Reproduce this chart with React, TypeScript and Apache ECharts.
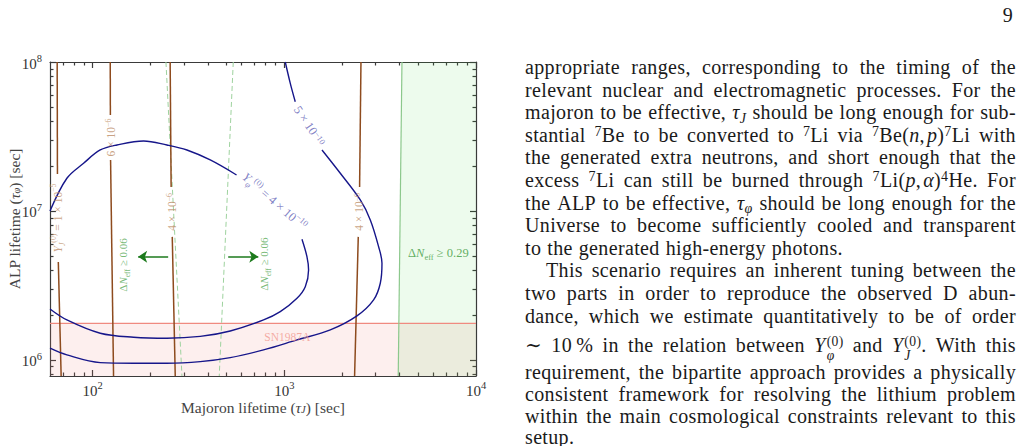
import React, { useEffect, useRef } from "react";
import * as echarts from "echarts";

// ---------- axis ranges & ticks ----------
const X_MIN = 60;
const X_MAX = 10000;
const Y_MIN = 780000;
const Y_MAX = 100000000;

const xMajorTicks = [100, 1000, 10000];
const xMinorTicks = [70, 80, 90, 200, 300, 400, 500, 600, 700, 800, 900, 2000, 3000, 4000, 5000, 6000, 7000, 8000, 9000];
const yMajorTicks = [1e6, 1e7, 1e8];
const yMinorTicks = [8e5, 9e5, 2e6, 3e6, 4e6, 5e6, 6e6, 7e6, 8e6, 9e6, 2e7, 3e7, 4e7, 5e7, 6e7, 7e7, 8e7, 9e7];

// ---------- Y_phi^(0) contours [tauJ, tauPhi] ----------
const yPhi4Upper = [[60, 1e7], [73.5, 1.658e7], [89.8, 2.09e7], [109.7, 2.567e7], [134.1, 2.773e7], [184.6, 2.95e7], [244.4, 2.773e7], [310.7, 2.567e7], [411.1, 2.199e7], [563.8, 1.744e7]];
const yPhi4Lower = [[1237, 6.46e6], [1313, 4.935e6], [1339, 4.018e6], [1287, 3.104e6], [1165, 2.595e6], [953, 2.11e6], [779.8, 1.856e6], [522.7, 1.565e6], [364.6, 1.438e6], [244.4, 1.398e6], [163.7, 1.42e6], [109.7, 1.511e6], [73.5, 1.856e6], [60, 2.199e6]];
const yPhi5Upper = [[1012, 1e8], [1075, 7.19e7], [1141, 5.414e7]];
const yPhi5Lower = [[1573, 2.567e7], [1960, 1.791e7], [2492, 1.185e7], [2810, 8.7e6], [3104, 5.76e6], [3233, 4.457e6], [3168, 3.272e6], [2924, 2.528e6], [2394, 1.974e6], [1738, 1.59e6], [1165, 1.362e6], [779.8, 1.167e6], [522.7, 1.036e6], [364.6, 9.74e5], [244.4, 9.5e5], [163.7, 9.5e5], [109.7, 9.59e5], [73.5, 1.08e6], [60, 1.198e6]];

// ---------- Y_J^(0) contours (segments around labels) ----------
const yJ1e5 = [[[65.4, 1e8], [65.6, 1.77e7]], [[66.3, 4.55e6], [68.6, 7.8e5]]];
const yJ6e6 = [[[123.7, 1e8], [123.9, 4.4e7]], [[124.2, 2.2e7], [128.7, 7.8e5]]];
const yJ4e6a = [[[254, 1e8], [257, 1.45e7]], [[260.5, 6.7e6], [270, 7.8e5]]];
const yJ4e6b = [[[2512, 1e8], [2471, 1.45e7]], [[2432, 6.7e6], [2327, 7.8e5]]];

// ---------- Delta N_eff constraints ----------
const dNeff006Left = [[241.5, 1e8], [292.7, 7.8e5]];
const dNeff006Right = [[542, 1e8], [458, 7.8e5]];
const arrowLeft = [[248, 4.93e6], [173, 4.93e6]];
const arrowRight = [[510, 4.93e6], [732, 4.93e6]];
const dNeff029Edge = [[4110, 1e8], [3930, 7.8e5]];
const dNeff029Region = [[4110, 1e8], [10000, 1e8], [10000, 7.8e5], [3930, 7.8e5]];

// ---------- SN1987A ----------
const sn1987aBound = 1.76e6;
const sn1987aRegion = [[60, 7.8e5], [10000, 7.8e5], [10000, 1.76e6], [60, 1.76e6]];

// ---------- labels ----------
const blueLabels = [
  { pos: [887, 1.158e7], text: "{i|Y}{sub|φ}{sup|(0)} = 4 × 10{sup|−10}" },
  { pos: [1350, 3.72e7], text: "5 × 10{sup|−10}" },
];
const brownLabels = [
  { pos: [66.2, 8.97e6], text: "{i|Y}{sub|J}{sup|(0)} = 1 × 10{sup|−5}" },
  { pos: [124.4, 3.11e7], text: "6 × 10{sup|−6}" },
  { pos: [258.8, 9.85e6], text: "4 × 10{sup|−6}" },
  { pos: [2461, 9.85e6], text: "4 × 10{sup|−6}" },
];
const greenLabels = [
  { pos: [144.5, 4.34e6], text: "Δ{i|N}{subr|eff} ≥ 0.06" },
  { pos: [781.6, 4.4e6], text: "Δ{i|N}{subr|eff} ≥ 0.06" },
];
const neff029Label = { pos: [6361, 5.22e6], text: "Δ{i|N}{subr|eff} ≥ 0.29" };
const snLabel = { pos: [1037, 1.427e6], text: "SN1987A" };

// ---------- page text ----------
const paraLines = [
  "appropriate ranges, corresponding to the timing of the",
  "relevant nuclear and electromagnetic processes. For the",
  "majoron to be effective, <i>τ<sub>J</sub></i> should be long enough for sub-",
  "stantial <sup>7</sup>Be to be converted to <sup>7</sup>Li via <sup>7</sup>Be(<i>n</i>,&#8202;<i>p</i>)<sup>7</sup>Li with",
  "the generated extra neutrons, and short enough that the",
  "excess <sup>7</sup>Li can still be burned through <sup>7</sup>Li(<i>p</i>,&#8202;<i>α</i>)<sup>4</sup>He. For",
  "the ALP to be effective, <i>τ<sub>φ</sub></i> should be long enough for the",
  "Universe to become sufficiently cooled and transparent",
  "to the generated high-energy photons.",
  "This scenario requires an inherent tuning between the",
  "two parts in order to reproduce the observed D abun-",
  "dance, which we estimate quantitatively to be of order",
  "∼ 10&#8201;% in the relation between {Yphi} and {YJ}. With this",
  "requirement, the bipartite approach provides a physically",
  "consistent framework for resolving the lithium problem",
  "within the main cosmological constraints relevant to this",
  "setup.",
];
const unjustified = [8, 16];
const indented = [9];
const lineCenters = [67, 89.6, 112.2, 134.8, 157.4, 180, 202.6, 225.2, 247.8, 270.4, 293, 315.6, 344, 372, 393.8, 415.5, 436.5];

const Y_PHI = '<i>Y</i><span class="st"><span>(0)</span><span><i>φ</i></span></span>';
const Y_J = '<i>Y</i><span class="st"><span>(0)</span><span><i>J</i></span></span>';

const SERIF = '"Liberation Serif", "DejaVu Serif", serif';
const AXIS_COLOR = "#3a3a3a";
const BLUE = "#16168a";
const BROWN = "#8e4b1e";

function buildOption() {
  const richSmall = (color: string, size: number) => ({
    i: { fontStyle: "italic", fontFamily: SERIF, fontSize: size, color, lineHeight: size + 5, verticalAlign: "middle" },
    sub: { fontStyle: "italic", fontFamily: SERIF, fontSize: size * 0.68, color, lineHeight: size * 0.7, verticalAlign: "bottom" },
    subr: { fontFamily: SERIF, fontSize: size * 0.68, color, lineHeight: size * 0.7, verticalAlign: "bottom" },
    sup: { fontFamily: SERIF, fontSize: size * 0.68, color, lineHeight: size * 0.7, verticalAlign: "top" },
  });

  const powRich = {
    b: { fontSize: 15, fontFamily: SERIF, color: "#333", lineHeight: 18, verticalAlign: "bottom" },
    s: { fontSize: 10.5, fontFamily: SERIF, color: "#333", lineHeight: 9, verticalAlign: "top" },
  };
  const powFormatter = (v: number) => `{b|10}{s|${Math.round(Math.log10(v))}}`;

  const nameRich = {
    m: { fontStyle: "italic", fontFamily: SERIF, fontSize: 15.5, color: "#444" },
    sub: { fontStyle: "italic", fontFamily: SERIF, fontSize: 10.5, color: "#444", verticalAlign: "bottom", lineHeight: 10 },
  };

  const grid = { left: 50, top: 62, width: 426, height: 314, containLabel: false, outerBoundsMode: "none" };

  const logX = (extra: any) => ({ type: "log", logBase: 10, min: X_MIN, max: X_MAX, splitLine: { show: false }, ...extra });
  const logY = (extra: any) => ({ type: "log", logBase: 10, min: Y_MIN, max: Y_MAX, splitLine: { show: false }, ...extra });
  const lineSt = { color: AXIS_COLOR, width: 1.2 };

  const xAxis = [
    logX({
      gridIndex: 0, position: "bottom",
      axisLine: { show: true, onZero: false, lineStyle: lineSt },
      axisTick: { show: true, inside: true, length: 6, customValues: xMajorTicks, lineStyle: lineSt },
      axisLabel: { show: true, customValues: xMajorTicks, formatter: powFormatter, rich: powRich, margin: 4 },
      name: "Majoron lifetime ({m|τ}{sub|J}) [sec]", nameLocation: "middle", nameGap: 23, nameMoveOverlap: false,
      nameTextStyle: { fontFamily: SERIF, fontSize: 15.5, color: "#444", rich: nameRich },
    }),
    logX({
      gridIndex: 0, position: "top",
      axisLine: { show: true, onZero: false, lineStyle: lineSt },
      axisTick: { show: true, inside: true, length: 6, customValues: xMajorTicks, lineStyle: lineSt },
      axisLabel: { show: false },
    }),
    logX({
      gridIndex: 1, position: "bottom",
      axisLine: { show: false },
      axisTick: { show: true, inside: true, length: 3.5, customValues: xMinorTicks, lineStyle: lineSt },
      axisLabel: { show: false },
    }),
    logX({
      gridIndex: 1, position: "top",
      axisLine: { show: false },
      axisTick: { show: true, inside: true, length: 3.5, customValues: xMinorTicks, lineStyle: lineSt },
      axisLabel: { show: false },
    }),
  ];
  const yAxis = [
    logY({
      gridIndex: 0, position: "left",
      axisLine: { show: true, onZero: false, lineStyle: lineSt },
      axisTick: { show: true, inside: true, length: 6, customValues: yMajorTicks, lineStyle: lineSt },
      axisLabel: { show: true, customValues: yMajorTicks, formatter: powFormatter, rich: powRich, margin: 8 },
      name: "ALP lifetime ({m|τ}{sub|φ}) [sec]", nameLocation: "middle", nameGap: 28, nameMoveOverlap: false,
      nameTextStyle: { fontFamily: SERIF, fontSize: 15.5, color: "#444", rich: nameRich },
    }),
    logY({
      gridIndex: 0, position: "right",
      axisLine: { show: true, onZero: false, lineStyle: lineSt },
      axisTick: { show: true, inside: true, length: 6, customValues: yMajorTicks, lineStyle: lineSt },
      axisLabel: { show: false },
    }),
    logY({
      gridIndex: 1, position: "left",
      axisLine: { show: false },
      axisTick: { show: true, inside: true, length: 3.5, customValues: yMinorTicks, lineStyle: lineSt },
      axisLabel: { show: false },
    }),
    logY({
      gridIndex: 1, position: "right",
      axisLine: { show: false },
      axisTick: { show: true, inside: true, length: 3.5, customValues: yMinorTicks, lineStyle: lineSt },
      axisLabel: { show: false },
    }),
  ];

  const lineSeries = (data: number[][], color: string, width: number, z: number, type: any = "solid", smooth: number = 0) => ({
    type: "line", xAxisIndex: 0, yAxisIndex: 0, data, showSymbol: false, symbol: "none", smooth,
    lineStyle: { color, width, type }, silent: true, z, clip: true,
  });
  const polySeries = (poly: number[][], fill: string, z: number) => ({
    type: "custom", xAxisIndex: 0, yAxisIndex: 0, data: [[X_MIN, Y_MIN]], silent: true, z, clip: true,
    renderItem: (_p: any, api: any) => ({
      type: "polygon",
      shape: { points: poly.map((p) => api.coord(p)) },
      style: { fill },
    }),
  });
  const labelSeries = (items: { pos: number[]; text: string }[], color: string, size: number, rotate: number[], z: number) => ({
    type: "scatter", xAxisIndex: 0, yAxisIndex: 0, symbolSize: 0, silent: true, z,
    data: items.map((it, k) => ({
      value: it.pos,
      label: { show: true, position: "inside", rotate: rotate[k], formatter: it.text },
    })),
    label: { show: true, color, fontSize: size, fontFamily: SERIF, rich: richSmall(color, size) },
  });

  const series: any[] = [
    polySeries(sn1987aRegion, "rgba(240,128,120,0.13)", 1),
    polySeries(dNeff029Region, "rgba(60,210,60,0.09)", 1),
    lineSeries([[X_MIN, sn1987aBound], [X_MAX, sn1987aBound]], "#f08a80", 1.3, 2),
    lineSeries(dNeff029Edge, "#8cc88c", 1.2, 2),
    lineSeries(dNeff006Left, "#9ed29e", 1, 3, [5, 3]),
    lineSeries(dNeff006Right, "#9ed29e", 1, 3, [5, 3]),
    ...[yJ1e5, yJ6e6, yJ4e6a, yJ4e6b].flat().map((seg) => lineSeries(seg, BROWN, 1.5, 4)),
    lineSeries(yPhi4Upper, BLUE, 1.4, 5, "solid", 0.35),
    lineSeries(yPhi4Lower, BLUE, 1.4, 5, "solid", 0.35),
    lineSeries(yPhi5Upper, BLUE, 1.4, 5, "solid", 0.35),
    lineSeries(yPhi5Lower, BLUE, 1.4, 5, "solid", 0.35),
    {
      type: "line", xAxisIndex: 0, yAxisIndex: 0, data: [], silent: true, z: 6,
      markLine: {
        silent: true, symbol: ["none", "arrow"], symbolSize: 9, label: { show: false },
        lineStyle: { color: "#1c7a1c", width: 1.5, type: "solid" },
        data: [
          [{ coord: arrowLeft[0] }, { coord: arrowLeft[1] }],
          [{ coord: arrowRight[0] }, { coord: arrowRight[1] }],
        ],
      },
    },
    labelSeries(blueLabels, "#6262b6", 12.5, [-41, -56], 7),
    labelSeries(brownLabels, "#bb8a63", 11.5, [90, 90, 90, 90], 7),
    labelSeries(greenLabels, "#55a855", 11, [90, 90], 7),
    labelSeries([neff029Label], "#3c9a3c", 12.5, [0], 7),
    labelSeries([snLabel], "#f29a90", 11.5, [0], 7),
  ];

  return {
    animation: false,
    backgroundColor: "#ffffff",
    grid: [{ ...grid }, { ...grid }],
    xAxis,
    yAxis,
    series,
  };
}

export default function App() {
  const ref = useRef<HTMLDivElement>(null);
  useEffect(() => {
    if (!ref.current) return;
    const chart = echarts.init(ref.current, null, { renderer: "svg" });
    chart.setOption(buildOption() as any);
    return () => chart.dispose();
  }, []);

  const renderWord = (w: string, k: number) => (
    <span key={k} dangerouslySetInnerHTML={{ __html: w.replace("{Yphi}", Y_PHI).replace("{YJ}", Y_J) }} />
  );

  return (
    <div style={{ position: "fixed", left: 0, top: 0, width: 1023, height: 446, background: "#fff", overflow: "hidden" }}>
      <style>{`
        .pt { font-family: ${SERIF}; font-size: 20px; letter-spacing: 0.35px; color: #1a1a1a; }
        .pt sup { font-size: 0.7em; vertical-align: 0; position: relative; top: -0.45em; line-height: 0; }
        .pt sub { font-size: 0.7em; vertical-align: 0; position: relative; top: 0.25em; line-height: 0; }
        .st { display: inline-flex; flex-direction: column; font-size: 0.68em; line-height: 1.05; vertical-align: 0.45em; margin-left: 1px; }
      `}</style>
      <div ref={ref} style={{ position: "absolute", left: 0, top: 0, width: 510, height: 446 }} />
      <div className="pt" style={{ position: "absolute", left: 980, top: 4, width: 33, textAlign: "right", lineHeight: "22px" }}>9</div>
      {paraLines.map((line, i) => {
        const words = line.split(" ");
        const just = !unjustified.includes(i);
        return (
          <div
            key={i}
            className="pt"
            style={{
              position: "absolute",
              left: indented.includes(i) ? 546 : 525,
              top: lineCenters[i] - 9,
              width: indented.includes(i) ? 470 : 491,
              height: 18,
              lineHeight: "18px",
              display: "flex",
              alignItems: "baseline",
              justifyContent: just ? "space-between" : "flex-start",
              columnGap: just ? 0 : "0.3em",
              whiteSpace: "nowrap",
            }}
          >
            {words.map(renderWord)}
          </div>
        );
      })}
    </div>
  );
}
